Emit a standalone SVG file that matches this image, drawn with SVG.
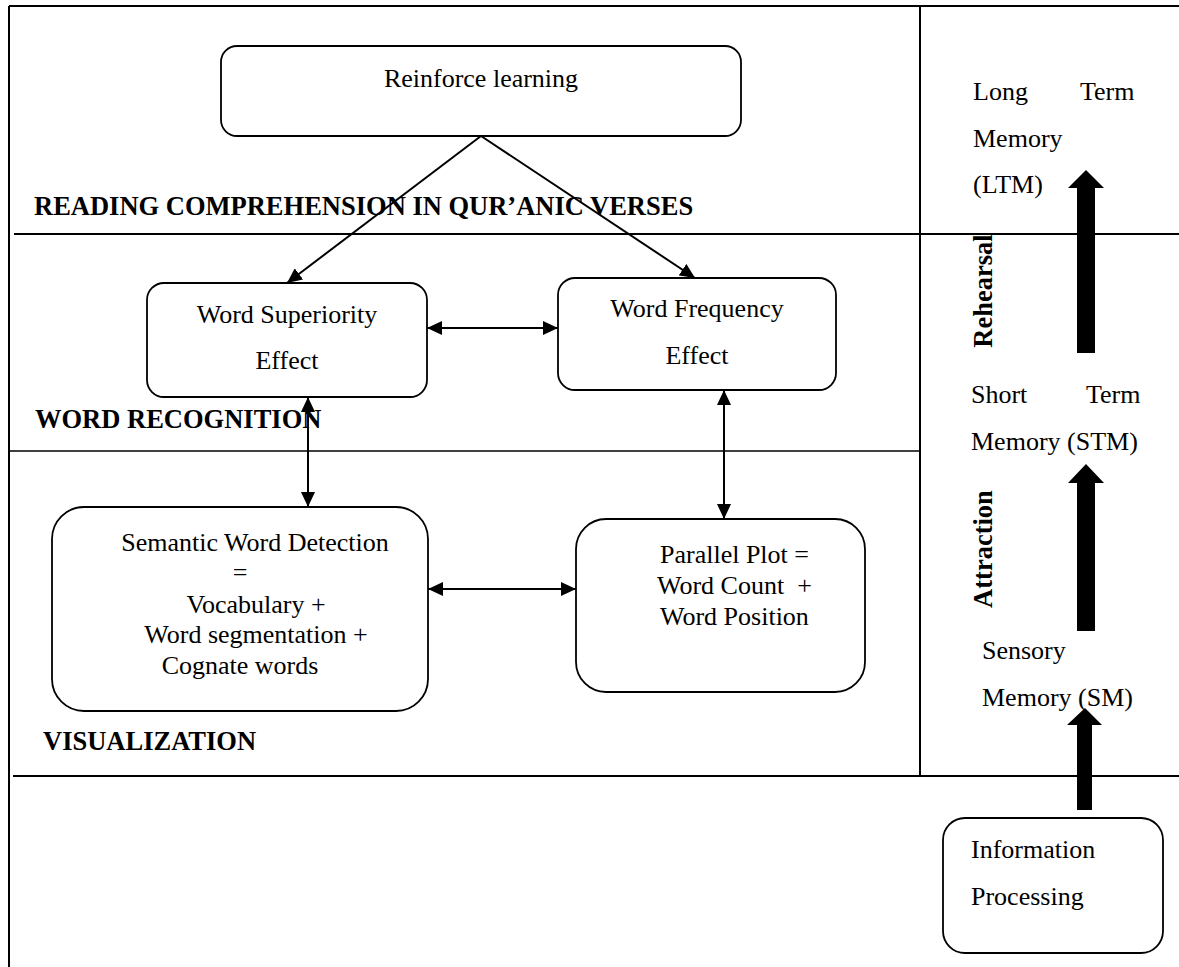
<svg xmlns="http://www.w3.org/2000/svg" width="1179" height="967" viewBox="0 0 1179 967">
  <style>
    .frame { stroke: #000; stroke-width: 2; fill: none; }
    .thin { stroke: #000; stroke-width: 1.3; fill: none; }
    .box { stroke: #000; stroke-width: 1.8; fill: #fff; }
    .t { font-family: "Liberation Serif", "Times New Roman", serif; font-size: 26px; fill: #000; }
    .h { font-family: "Liberation Serif", "Times New Roman", serif; font-size: 26.5px; font-weight: bold; fill: #000; }
    .c { text-anchor: middle; }
    .link { stroke: #000; stroke-width: 2; fill: none; }
    .bigarrow { fill: #000; stroke: none; }
  </style>
  <defs>
    <marker id="ah" markerUnits="userSpaceOnUse" markerWidth="16" markerHeight="14" refX="15" refY="7" orient="auto-start-reverse">
      <path d="M0,0 L15,7 L0,14 Z" fill="#000"/>
    </marker>
  </defs>

  <rect width="1179" height="967" fill="#fff"/>

  <!-- frame and band dividers -->
  <g id="frame">
    <line class="frame" x1="9" y1="6" x2="1179" y2="6"/>
    <line class="frame" x1="9" y1="6" x2="9" y2="967"/>
    <line class="frame" x1="920" y1="6" x2="920" y2="776"/>
    <line class="frame" x1="14" y1="234" x2="1179" y2="234"/>
    <line class="thin" x1="9" y1="451" x2="920" y2="451"/>
    <line class="frame" x1="13" y1="776" x2="1179" y2="776"/>
  </g>

  <!-- band headings -->
  <g id="headings">
    <text class="h" x="34" y="215">READING COMPREHENSION IN QUR’ANIC VERSES</text>
    <text class="h" x="35" y="428">WORD RECOGNITION</text>
    <text class="h" x="43" y="750">VISUALIZATION</text>
  </g>

  <g id="reinforce">
    <rect class="box" x="221" y="46" width="520" height="90" rx="16"/>
    <text class="t c" x="481" y="87">Reinforce learning</text>
  </g>

  <g id="superiority">
    <rect class="box" x="147" y="283" width="280" height="114" rx="17"/>
    <text class="t c" x="287" y="323">Word Superiority</text>
    <text class="t c" x="287" y="369">Effect</text>
  </g>

  <g id="frequency">
    <rect class="box" x="558" y="278" width="278" height="112" rx="17"/>
    <text class="t c" x="697" y="317">Word Frequency</text>
    <text class="t c" x="697" y="364">Effect</text>
  </g>

  <g id="semantic">
    <rect class="box" x="52" y="507" width="376" height="204" rx="32"/>
    <text class="t c" x="255" y="551">Semantic Word Detection</text>
    <text class="t c" x="240" y="581">=</text>
    <text class="t c" x="256" y="613">Vocabulary +</text>
    <text class="t c" x="256" y="643">Word segmentation +</text>
    <text class="t c" x="240" y="674">Cognate words</text>
  </g>

  <g id="parallel">
    <rect class="box" x="576" y="519" width="289" height="173" rx="30"/>
    <text class="t" x="660" y="563">Parallel Plot =</text>
    <text class="t" x="657" y="594" xml:space="preserve">Word Count  +</text>
    <text class="t" x="660" y="625">Word Position</text>
  </g>

  <!-- memory stages -->
  <g id="ltm">
    <text class="t" x="973" y="100">Long</text>
    <text class="t" x="1080" y="100">Term</text>
    <text class="t" x="973" y="147">Memory</text>
    <text class="t" x="973" y="193">(LTM)</text>
  </g>

  <g id="stm">
    <text class="t" x="971" y="403">Short</text>
    <text class="t" x="1086" y="403">Term</text>
    <text class="t" x="971" y="450">Memory (STM)</text>
  </g>

  <g id="sm">
    <text class="t" x="982" y="659">Sensory</text>
    <text class="t" x="982" y="706">Memory (SM)</text>
  </g>

  <g id="information">
    <rect class="box" x="943" y="818" width="220" height="135" rx="22"/>
    <text class="t" x="971" y="858">Information</text>
    <text class="t" x="971" y="905">Processing</text>
  </g>

  <g id="stage-labels">
    <text class="h c" transform="translate(992,291) rotate(-90)">Rehearsal</text>
    <text class="h c" transform="translate(992,549) rotate(-90)">Attraction</text>
  </g>

  <!-- connectors -->
  <g id="connectors">
    <line class="link" x1="481" y1="136" x2="287" y2="283" marker-end="url(#ah)"/>
    <line class="link" x1="481" y1="136" x2="695" y2="278" marker-end="url(#ah)"/>
    <line class="link" x1="427" y1="328" x2="558" y2="328" marker-start="url(#ah)" marker-end="url(#ah)"/>
    <line class="link" x1="308" y1="397" x2="308" y2="507" marker-start="url(#ah)" marker-end="url(#ah)"/>
    <line class="link" x1="724" y1="390" x2="724" y2="519" marker-start="url(#ah)" marker-end="url(#ah)"/>
    <line class="link" x1="428" y1="589" x2="576" y2="589" marker-start="url(#ah)" marker-end="url(#ah)"/>
    <path class="bigarrow" d="M1086,170 L1104,188 L1095,188 L1095,353 L1077,353 L1077,188 L1068,188 Z"/>
    <path class="bigarrow" d="M1086,464 L1104,483 L1095,483 L1095,631 L1077,631 L1077,483 L1068,483 Z"/>
    <path class="bigarrow" d="M1085,708 L1102,725 L1092,725 L1092,810 L1077,810 L1077,725 L1067,725 Z"/>
  </g>
</svg>
